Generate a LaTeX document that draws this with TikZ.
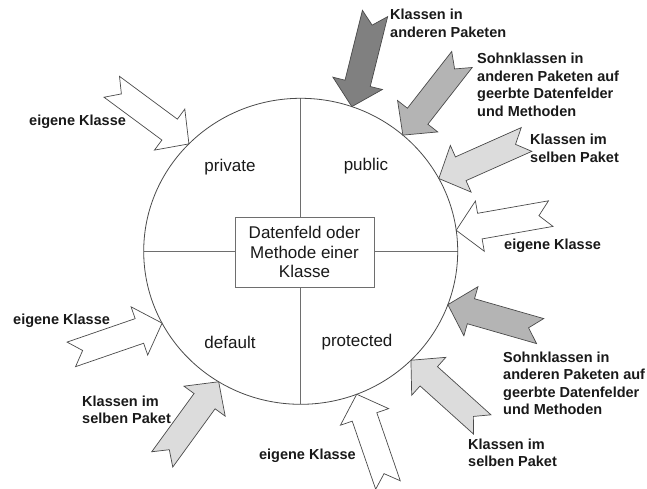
\documentclass[tikz,border=0pt]{standalone}
\usepackage{fontspec}
\setmainfont{Liberation Sans}
\usetikzlibrary{calc}

\definecolor{darkfill}{HTML}{808080}
\definecolor{midfill}{HTML}{B4B4B4}
\definecolor{lightfill}{HTML}{DCDCDC}
\definecolor{edgegray}{HTML}{4A4A4A}
\definecolor{linegray}{HTML}{6E6E6E}

\begin{document}
\begin{tikzpicture}[x=1pt,y=1pt,
  blockarrow/.style={draw=edgegray,line width=0.7pt,line join=miter},
  accessor/.style={anchor=base west,align=left,inner sep=0pt,text=black!90,
    font=\fontsize{14.5}{17.5}\selectfont\bfseries},
  part/.style={text=black!90,font=\fontsize{17}{19.5}\selectfont}]
  \useasboundingbox (0,0) rectangle (647,488);

  \coordinate (c) at (300.7,236.7);
  \coordinate (top) at ($(c)+(0,153)$);
  \coordinate (bottom) at ($(c)+(0,-153)$);
  \coordinate (left) at ($(c)+(-157,0)$);
  \coordinate (right) at ($(c)+(157,0)$);

  % the four parts
  \draw[linegray,line width=1.1pt] (top) -- (bottom);
  \draw[linegray,line width=1.1pt] (left) -- (right);
  \draw[edgegray,line width=0.8pt] (c) ellipse [x radius=157, y radius=153];

  \node[part,draw=linegray,line width=0.9pt,fill=white,align=center,
    minimum width=139,minimum height=70,inner sep=0pt] (member) at (304.5,236)
    {Datenfeld oder\\Methode einer\\Klasse};

  \node[part] (private) at (230,321) {private};
  \node[part] (public) at (366,322) {public};
  \node[part] (default) at (230,146) {default};
  \node[part] (protected) at (357,146) {protected};

  % access arrows: angle on the rim / direction / fill
  \foreach \t/\r/\f in {71/256/darkfill, 49.4/232/midfill, 28.4/204/lightfill,
      7.9/190/white, -20.4/164/midfill, -45.4/138/lightfill, -69.1/109/white,
      238.5/54/lightfill, 208/19/white, 135.4/-36.5/white} {
    \draw[blockarrow,fill=\f,shift={($(c)+(\t:157 and 153)$)},rotate=\r]
      (0,0) -- (-24,25.5) -- (-24,13) -- (-96,13) -- (-84,0)
      -- (-96,-13) -- (-24,-13) -- (-24,-25.5) -- cycle;
  }

  % labels sit on the baseline of their last line
  \node[accessor] (otherpkg) at (390,450.5) {Klassen in\\anderen Paketen};
  \node[accessor] (subpublic) at (477,371.5)
    {Sohnklassen in\\anderen Paketen auf\\geerbte Datenfelder\\und Methoden};
  \node[accessor] (samepublic) at (530,325.5) {Klassen im\\selben Paket};
  \node[accessor] (ownpublic) at (504,239) {eigene Klasse};
  \node[accessor] (subprotected) at (503,73.5)
    {Sohnklassen in\\anderen Paketen auf\\geerbte Datenfelder\\und Methoden};
  \node[accessor] (sameprotected) at (468,21.5) {Klassen im\\selben Paket};
  \node[accessor,anchor=base east] (ownprotected) at (356,29) {eigene Klasse};
  \node[accessor] (samedefault) at (82,64.5) {Klassen im\\selben Paket};
  \node[accessor] (owndefault) at (13,164) {eigene Klasse};
  \node[accessor] (ownprivate) at (29,362) {eigene Klasse};
\end{tikzpicture}
\end{document}
